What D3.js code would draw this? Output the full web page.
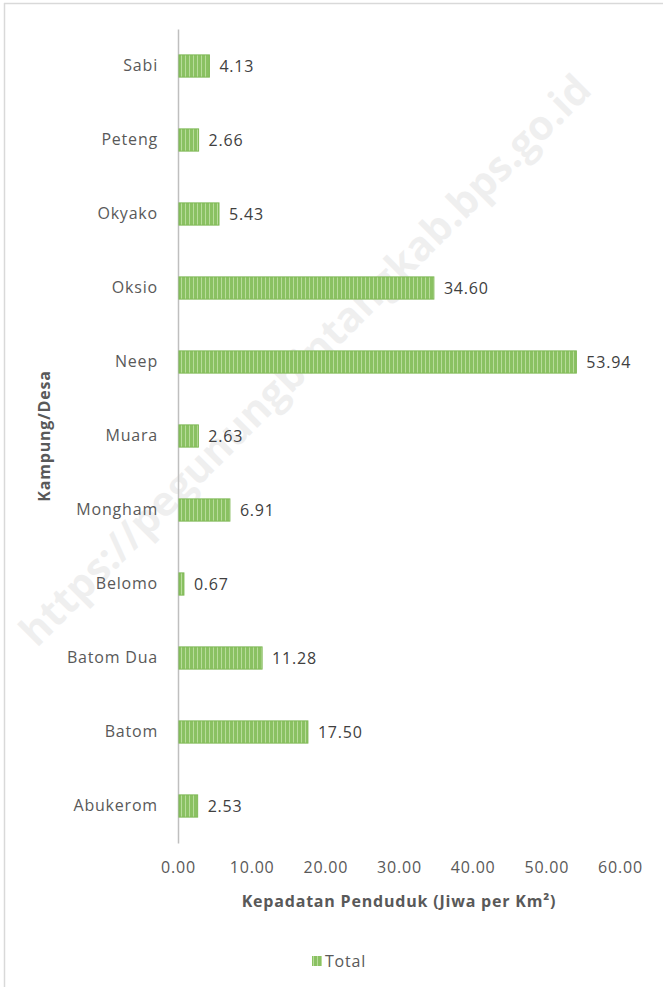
<!DOCTYPE html>
<html>
<head>
<meta charset="utf-8">
<script src="https://cdn.jsdelivr.net/npm/d3@7"></script>
<style>
  body { margin: 0; background: #fff; }
  svg { display: block; font-family: "Open Sans", "Noto Sans", sans-serif; }
</style>
</head>
<body>
<div id="chart"></div>
<script>
// categories top -> bottom, as drawn
const villages = ["Sabi", "Peteng", "Okyako", "Oksio", "Neep", "Muara", "Mongham", "Belomo", "Batom Dua", "Batom", "Abukerom"];
const density = [4.13, 2.66, 5.43, 34.60, 53.94, 2.63, 6.91, 0.67, 11.28, 17.50, 2.53];
const xTicks = [0, 10, 20, 30, 40, 50, 60];

const W = 663, H = 987;
const FS = 16, LS = "0.8px";

const svg = d3.select("#chart")
    .append("svg")
    .attr("width", W)
    .attr("height", H);

// bar fill pattern: vertical stripes
const defs = svg.append("defs");
const pat = defs.append("pattern")
    .attr("id", "stripes")
    .attr("patternUnits", "userSpaceOnUse")
    .attr("width", 4)
    .attr("height", 4);
pat.append("rect").attr("width", 4).attr("height", 4).attr("fill", "#8ac162");
pat.append("rect").attr("x", 1).attr("width", 1).attr("height", 4).attr("fill", "#b8dc9a");

// watermark (behind everything)
svg.append("text")
    .attr("transform", "translate(305, 360) rotate(-45)")
    .attr("text-anchor", "middle")
    .attr("dy", "0.35em")
    .attr("font-size", 41)
    .attr("font-weight", "bold")
    .attr("fill", "#000")
    .attr("opacity", 0.06)
    .text("https://pegunungbintangkab.bps.go.id");

// outer chart border (only top and left show)
svg.append("line").attr("x1", 4).attr("x2", W).attr("y1", 3.5).attr("y2", 3.5)
    .attr("stroke", "#d9d9d9").attr("stroke-width", 1.5);
svg.append("line").attr("x1", 4.5).attr("x2", 4.5).attr("y1", 3).attr("y2", H)
    .attr("stroke", "#d9d9d9").attr("stroke-width", 1.5);

// scales
const x = d3.scaleLinear().domain([0, 60]).range([178, 620]);
const y = d3.scaleBand()
    .domain(villages)
    .range([29, 843])
    .paddingInner(0.7)
    .paddingOuter(0.35);

// x tick labels
const xAxis = d3.axisBottom(x)
    .tickValues(xTicks)
    .tickSize(0)
    .tickPadding(0)
    .tickFormat(d3.format(".2f"));
const gx = svg.append("g")
    .attr("transform", "translate(0, 862)")
    .call(xAxis);
gx.select(".domain").remove();
gx.selectAll("text")
    .attr("font-size", FS)
    .attr("letter-spacing", LS)
    .attr("fill", "#595959")
    .attr("font-family", "Open Sans, sans-serif");

// y axis
const yAxis = d3.axisLeft(y).tickSize(0).tickPadding(20);
const gy = svg.append("g")
    .attr("transform", `translate(${x(0)}, 0)`)
    .call(yAxis);
gy.select(".domain").attr("stroke", "#bfbfbf").attr("stroke-width", 1.5);
gy.selectAll("text")
    .attr("font-size", FS)
    .attr("letter-spacing", LS)
    .attr("fill", "#595959")
    .attr("font-family", "Open Sans, sans-serif");

// bars
svg.selectAll(".bar")
    .data(villages)
    .enter()
    .append("rect")
    .attr("class", "bar")
    .attr("x", x(0) + 1)
    .attr("y", d => y(d))
    .attr("width", (d, i) => x(density[i]) - x(0))
    .attr("height", y.bandwidth())
    .attr("fill", "url(#stripes)")
    .attr("stroke", "#7fb856")
    .attr("stroke-width", 1);

// value labels
svg.selectAll(".val")
    .data(villages)
    .enter()
    .append("text")
    .attr("class", "val")
    .attr("x", (d, i) => x(density[i]) + 11)
    .attr("y", d => y(d) + y.bandwidth() / 2)
    .attr("dy", "0.35em")
    .attr("font-size", FS)
    .attr("letter-spacing", LS)
    .attr("fill", "#404040")
    .text((d, i) => d3.format(".2f")(density[i]));

// axis titles
svg.append("text")
    .attr("x", 399)
    .attr("y", 907)
    .attr("text-anchor", "middle")
    .attr("font-size", FS)
    .attr("letter-spacing", LS)
    .attr("font-weight", "bold")
    .attr("fill", "#595959")
    .text("Kepadatan Penduduk (Jiwa per Km²)");

svg.append("text")
    .attr("transform", "translate(50, 436) rotate(-90)")
    .attr("text-anchor", "middle")
    .attr("font-size", FS)
    .attr("letter-spacing", LS)
    .attr("font-weight", "bold")
    .attr("fill", "#595959")
    .text("Kampung/Desa");

// legend
svg.append("rect")
    .attr("x", 312).attr("y", 956)
    .attr("width", 10).attr("height", 10)
    .attr("fill", "url(#stripes)");
svg.append("text")
    .attr("x", 325).attr("y", 967)
    .attr("font-size", FS)
    .attr("letter-spacing", LS)
    .attr("fill", "#595959")
    .text("Total");
</script>
</body>
</html>
